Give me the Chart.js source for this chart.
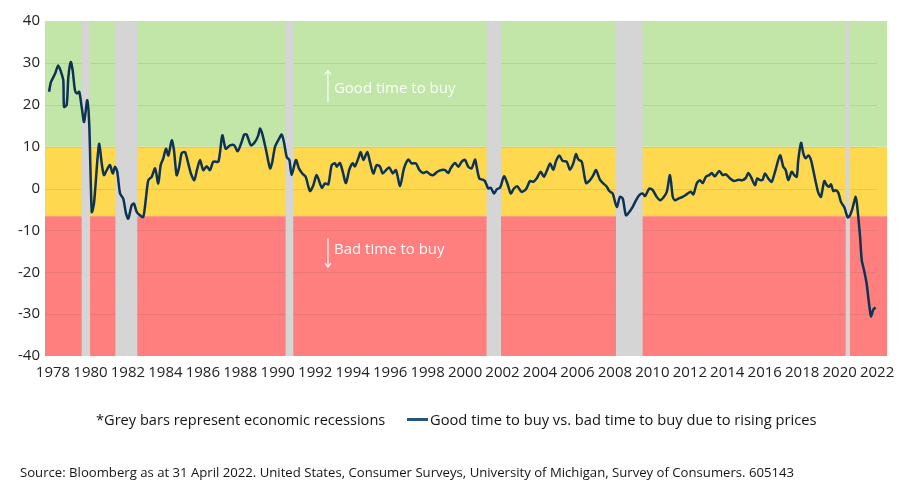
<!DOCTYPE html>
<html>
<head>
<meta charset="utf-8">
<script src="https://cdn.jsdelivr.net/npm/chart.js@4.4.1/dist/chart.umd.min.js"></script>
<style>
  body { margin: 0; background: #fff; }
  #wrap { position: relative; width: 903px; height: 484px; font-family: 'Open Sans', sans-serif; color: #151515; }
  #chartBox { position: absolute; left: 0; top: 0; width: 903px; height: 484px; }
  .txt { position: absolute; white-space: nowrap; }
</style>
</head>
<body>
<div id="wrap">
  <div id="chartBox"><canvas id="lineChart"></canvas></div>
  <div class="txt" style="left:96px; top:409px; font-size:14.6px; line-height:20px;">*Grey bars represent economic recessions</div>
  <div class="txt" style="left:407px; top:418px; width:21px; height:2.5px; background:#24557c;"></div>
  <div class="txt" style="left:430px; top:409px; font-size:14.7px; line-height:20px;">Good time to buy vs. bad time to buy due to rising prices</div>
  <div class="txt" style="left:20px; top:463px; font-size:13.15px; line-height:18px;">Source: Bloomberg as at 31 April 2022. United States, Consumer Surveys, University of Michigan, Survey of Consumers. 605143</div>
</div>
<script>
// series: good time to buy vs bad time to buy (net balance)
const years = [
  1977.79,1977.89,1978.11,1978.28,1978.43,1978.55,1978.59,1978.73,1978.82,1978.95,
  1979.05,1979.17,1979.27,1979.40,1979.53,1979.66,1979.83,1979.94,1980.07,1980.19,
  1980.37,1980.47,1980.60,1980.72,1980.87,1981.04,1981.19,1981.31,1981.43,1981.58,
  1981.75,1981.90,1982.02,1982.20,1982.32,1982.47,1982.64,1982.82,1982.97,1983.09,
  1983.27,1983.45,1983.62,1983.75,1983.89,1984.03,1984.16,1984.34,1984.46,1984.60,
  1984.74,1984.87,1985.05,1985.22,1985.37,1985.54,1985.69,1985.85,1986.02,1986.21,
  1986.38,1986.56,1986.83,1987.04,1987.22,1987.45,1987.68,1987.86,1988.07,1988.21,
  1988.34,1988.57,1988.78,1988.96,1989.05,1989.17,1989.36,1989.59,1989.71,1989.85,
  1990.07,1990.21,1990.33,1990.48,1990.62,1990.74,1990.97,1991.13,1991.31,1991.49,
  1991.72,1991.90,1992.08,1992.35,1992.52,1992.70,1992.88,1993.06,1993.15,1993.32,
  1993.47,1993.64,1993.82,1994.00,1994.12,1994.30,1994.43,1994.57,1994.78,1994.92,
  1995.10,1995.28,1995.46,1995.60,1995.78,1995.96,1996.14,1996.31,1996.53,1996.74,
  1996.97,1997.15,1997.38,1997.56,1997.77,1997.95,1998.13,1998.30,1998.52,1998.75,
  1998.93,1999.11,1999.23,1999.46,1999.64,1999.82,2000.00,2000.17,2000.35,2000.53,
  2000.62,2000.76,2000.94,2001.06,2001.24,2001.37,2001.55,2001.69,2001.87,2002.08,
  2002.26,2002.44,2002.61,2002.79,2003.02,2003.25,2003.47,2003.64,2003.82,2004.04,
  2004.21,2004.39,2004.54,2004.71,2004.86,2005.03,2005.21,2005.43,2005.60,2005.78,
  2005.92,2006.05,2006.23,2006.46,2006.67,2006.85,2006.99,2007.20,2007.38,2007.56,
  2007.70,2007.88,2008.10,2008.27,2008.42,2008.59,2008.77,2008.95,2009.13,2009.30,
  2009.48,2009.61,2009.84,2010.02,2010.23,2010.41,2010.58,2010.77,2010.94,2011.09,
  2011.21,2011.39,2011.62,2011.83,2012.05,2012.19,2012.37,2012.54,2012.69,2012.86,
  2013.04,2013.17,2013.34,2013.57,2013.76,2013.93,2014.15,2014.36,2014.59,2014.82,
  2015.00,2015.12,2015.25,2015.48,2015.60,2015.75,2015.89,2016.01,2016.19,2016.37,
  2016.55,2016.82,2016.99,2017.12,2017.26,2017.44,2017.58,2017.71,2017.79,2017.94,
  2018.06,2018.19,2018.33,2018.47,2018.59,2018.72,2018.86,2019.00,2019.18,2019.31,
  2019.43,2019.54,2019.66,2019.79,2019.93,2020.07,2020.25,2020.43,2020.55,2020.68,
  2020.86,2020.96,2021.09,2021.18,2021.32,2021.44,2021.67,2021.80,2021.92
];
const values = [
  23.1,25.4,27.4,29.4,27.8,25.8,19.5,19.9,26.6,30.2,
  28.2,23.5,22.7,23.1,19.5,15.9,21.1,14.7,-5.6,-3.5,
  6.8,10.7,6.0,3.2,4.4,5.6,3.6,5.2,4.0,-1.2,
  -2.4,-6.0,-7.2,-4.0,-3.6,-5.6,-6.4,-6.8,-2.0,2.0,
  2.8,4.8,1.2,5.6,7.2,9.5,7.9,11.5,9.1,3.2,
  5.2,8.4,8.7,6.0,3.5,2.0,4.5,6.8,4.4,5.3,
  4.4,6.4,6.4,12.7,9.5,10.3,10.3,8.9,11.1,12.9,
  12.9,10.3,11.1,12.7,14.3,13.1,9.5,4.8,6.4,9.9,
  11.9,12.9,11.1,7.5,6.8,3.2,6.8,4.8,3.6,2.8,
  -0.6,0.8,3.2,0.2,1.2,1.0,5.6,6.0,5.2,6.1,
  4.0,1.3,4.5,6.0,5.3,7.2,8.7,6.8,8.7,6.4,
  3.6,5.6,5.2,3.6,4.4,5.0,3.6,4.4,0.6,4.8,
  6.9,6.0,6.0,4.4,3.7,4.0,3.4,3.2,4.0,4.4,
  4.4,3.7,4.8,6.1,5.2,6.4,6.8,5.2,4.8,6.9,
  5.2,2.4,2.1,1.8,0.0,0.2,-1.2,-0.2,0.2,2.9,
  1.2,-1.2,0.0,0.5,-0.8,-0.2,1.8,1.6,2.4,4.0,
  2.8,4.5,6.0,4.5,6.6,7.9,6.6,6.4,4.5,6.0,
  8.2,6.9,6.4,1.3,2.0,3.2,4.4,2.1,1.2,0.5,
  -0.6,-1.2,-4.4,-2.0,-2.4,-6.4,-5.6,-4.4,-2.8,-1.6,
  -1.2,-1.8,0.0,-0.4,-2.0,-2.8,-2.2,-0.8,3.2,-2.0,
  -2.8,-2.4,-2.0,-1.4,-0.8,-1.4,1.2,2.0,1.3,2.8,
  3.2,3.7,2.9,4.2,3.2,3.4,2.4,1.8,2.1,2.0,
  2.6,3.7,2.9,0.8,2.4,2.0,2.1,3.6,2.4,1.6,
  4.0,7.9,5.2,4.4,2.0,4.0,3.2,2.8,6.8,10.9,
  8.4,7.2,7.9,6.8,4.4,1.6,-1.0,-2.0,1.8,0.8,
  0.4,1.0,-0.6,-0.4,-1.0,-3.2,-4.5,-6.9,-6.4,-4.8,
  -2.0,-5.2,-11.5,-17.1,-19.9,-22.7,-30.5,-28.9,-28.4
];

// recessions (grey bars)
const recessionStart = [1979.53, 1981.33, 1990.42, 2001.15, 2008.06, 2020.32];
const recessionEnd   = [1979.98, 1982.50, 1990.83, 2001.92, 2009.48, 2020.55];

// background zones: bad / neutral / good
const zoneFrom = [-40, -6.6, 10];
const zoneTo   = [-6.6, 10, 40];
const zoneColors = ['#fe7f7d', '#fed84f', '#c1e6a7'];

const xTicks = [];
for (let yr = 1978; yr <= 2022; yr += 2) xTicks.push(yr);
const yTicks = [-40, -30, -20, -10, 0, 10, 20, 30, 40];

const lastYear = 2022;

Chart.defaults.font.family = "'Open Sans', sans-serif";
Chart.defaults.color = '#222';

const backdrop = {
    id: 'backdrop',
    beforeDraw(chart) {
        const { ctx, chartArea: a, scales: { x, y } } = chart;
        ctx.save();
        zoneFrom.forEach((f, i) => {
            const top = y.getPixelForValue(zoneTo[i]);
            const bot = y.getPixelForValue(f);
            ctx.fillStyle = zoneColors[i];
            ctx.fillRect(a.left, top, a.right - a.left, bot - top);
        });
        // faint gridlines stop at the last year
        ctx.strokeStyle = 'rgba(60,60,60,0.11)';
        ctx.lineWidth = 1;
        const gx = x.getPixelForValue(lastYear);
        yTicks.forEach(v => {
            if (v === 40 || v === -40) return;
            const py = Math.round(y.getPixelForValue(v)) + 0.5;
            ctx.beginPath();
            ctx.moveTo(a.left, py);
            ctx.lineTo(gx, py);
            ctx.stroke();
        });
        ctx.fillStyle = '#d5d5d5';
        recessionStart.forEach((s, i) => {
            const l = x.getPixelForValue(s);
            const r = x.getPixelForValue(recessionEnd[i]);
            ctx.fillRect(l, a.top, r - l, a.bottom - a.top);
        });
        ctx.restore();
    }
};

// arrows + labels inside the zones
const notes = [
    { text: 'Good time to buy', at: 1993.0, val: 23.9, from: 20.6, to: 28.2 },
    { text: 'Bad time to buy',  at: 1993.0, val: -14.7, from: -11.9, to: -18.8 }
];

const zoneNotes = {
    id: 'zoneNotes',
    afterDatasetsDraw(chart) {
        const { ctx, scales: { x, y } } = chart;
        ctx.save();
        ctx.strokeStyle = 'rgba(255,255,255,0.95)';
        ctx.fillStyle = 'rgba(255,255,255,0.95)';
        ctx.lineWidth = 1.2;
        ctx.font = "15px 'Open Sans', sans-serif";
        ctx.textBaseline = 'middle';
        notes.forEach(n => {
            const ax = x.getPixelForValue(1992.68);
            const y0 = y.getPixelForValue(n.from);
            const y1 = y.getPixelForValue(n.to);
            const dir = y1 < y0 ? 1 : -1;
            ctx.beginPath();
            ctx.moveTo(ax, y0);
            ctx.lineTo(ax, y1);
            ctx.moveTo(ax - 3, y1 + dir * 4);
            ctx.lineTo(ax, y1);
            ctx.lineTo(ax + 3, y1 + dir * 4);
            ctx.stroke();
            ctx.fillText(n.text, x.getPixelForValue(n.at), y.getPixelForValue(n.val));
        });
        ctx.restore();
    }
};

new Chart(document.getElementById('lineChart'), {
    type: 'line',
    data: {
        datasets: [{
            label: 'Good time to buy vs. bad time to buy due to rising prices',
            data: years.map((t, i) => ({ x: t, y: values[i] })),
            borderColor: '#0c3354',
            borderWidth: 2.5,
            pointRadius: 0,
            tension: 0.25,
            fill: false
        }]
    },
    options: {
        animation: false,
        responsive: true,
        maintainAspectRatio: false,
        layout: { padding: { top: 21, right: 16, bottom: 104, left: 0 } },
        plugins: { legend: { display: false }, tooltip: { enabled: false } },
        scales: {
            x: {
                type: 'linear',
                min: 1977.573,
                max: 2022.528,
                grid: { display: false, drawTicks: false },
                border: { display: false },
                afterBuildTicks: s => { s.ticks = xTicks.map(v => ({ value: v })); },
                afterFit: s => { s.height = 24; },
                ticks: { autoSkip: false, maxRotation: 0, padding: 8, font: { size: 15 }, callback: v => String(v) }
            },
            y: {
                min: -40,
                max: 40,
                grid: { display: false, drawTicks: false },
                border: { display: false },
                afterBuildTicks: s => { s.ticks = yTicks.map(v => ({ value: v })); },
                afterFit: s => { s.width = 45; },
                ticks: { padding: 5, font: { size: 15 }, callback: v => String(v) }
            }
        }
    },
    plugins: [backdrop, zoneNotes]
});
</script>
</body>
</html>
